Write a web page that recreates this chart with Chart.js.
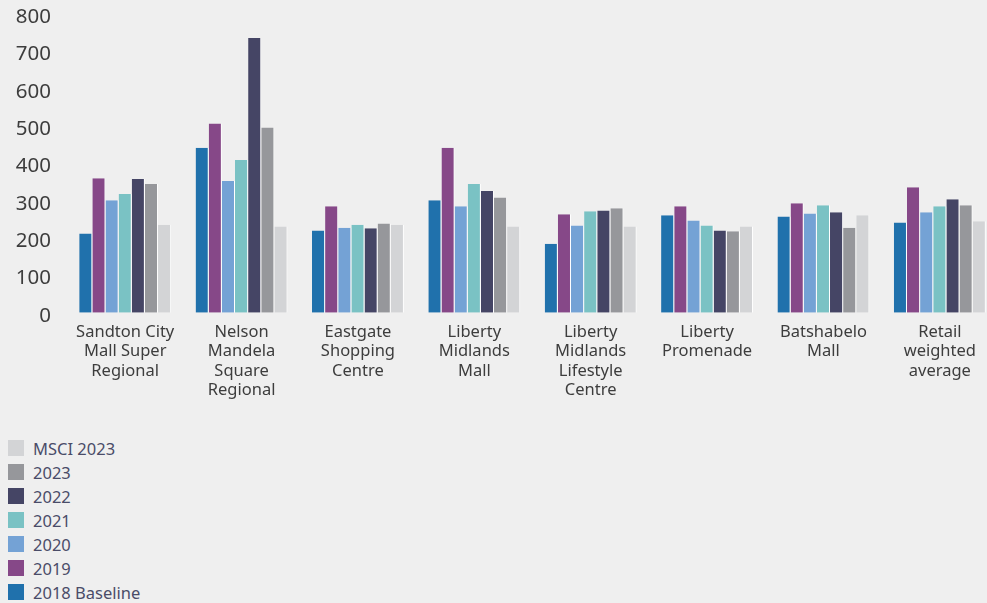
<!DOCTYPE html>
<html>
<head>
<meta charset="utf-8">
<script src="https://cdn.jsdelivr.net/npm/chart.js@4.4.1/dist/chart.umd.min.js"></script>
<style>
  html, body { margin: 0; padding: 0; background: #efefef; overflow: hidden; }
  body { width: 987px; height: 603px; position: relative; }
  #wrap { position: absolute; left: 0; top: 0; width: 1000px; height: 410px; }
  #legend { position: absolute; left: 8px; top: 436px; list-style: none; margin: 0; padding: 0;
            font-family: 'Noto Sans', sans-serif; font-size: 16.5px; color: #4a4c68; }
  #legend li { height: 24px; display: flex; align-items: center; white-space: nowrap; }
  #legend .box { width: 16px; height: 16px; margin-right: 9px; flex: none; }
</style>
</head>
<body>
<div id="wrap"><canvas id="myChart" width="1000" height="410"></canvas></div>
<ul id="legend"></ul>
<script>
const categories = [
  ['Sandton City', 'Mall Super', 'Regional'],
  ['Nelson', 'Mandela', 'Square', 'Regional'],
  ['Eastgate', 'Shopping', 'Centre'],
  ['Liberty', 'Midlands', 'Mall'],
  ['Liberty', 'Midlands', 'Lifestyle', 'Centre'],
  ['Liberty', 'Promenade'],
  ['Batshabelo', 'Mall'],
  ['Retail', 'weighted', 'average'],
];

const seriesNames = ['2018 Baseline', '2019', '2020', '2021', '2022', '2023', 'MSCI 2023'];
const seriesColors = ['#2071ac', '#864888', '#74a2d5', '#7ac2c4', '#454565', '#96979b', '#d3d4d6'];

const baseline2018 = [212, 442, 220, 301, 185, 261, 258, 242];
const values2019 = [360, 507, 285, 442, 264, 285, 293, 336];
const values2020 = [301, 353, 228, 285, 234, 247, 266, 269];
const values2021 = [318, 409, 236, 345, 272, 234, 288, 285];
const values2022 = [358, 736, 226, 326, 274, 220, 269, 304];
const values2023 = [345, 496, 239, 309, 280, 218, 228, 288];
const msci2023 = [236, 231, 236, 231, 231, 231, 261, 245];

const yTicks = [0, 100, 200, 300, 400, 500, 600, 700, 800];

const seriesValues = [baseline2018, values2019, values2020, values2021, values2022, values2023, msci2023];

const datasets = seriesNames.map((name, i) => ({
  label: name,
  data: seriesValues[i],
  backgroundColor: seriesColors[i],
  borderColor: '#ffffff',
  borderWidth: { top: 0, left: 0, bottom: 0, right: 1 },
  borderSkipped: false,
  barPercentage: 1,
  categoryPercentage: 0.79,
}));

const config = {
  type: 'bar',
  data: { labels: categories, datasets: datasets },
  options: {
    responsive: false,
    animation: false,
    layout: { padding: { top: 14, right: 2, bottom: 0, left: 0 } },
    plugins: {
      legend: { display: false },
      tooltip: { enabled: false },
    },
    scales: {
      x: {
        grid: { display: false, drawTicks: false },
        border: { display: false },
        ticks: {
          padding: 10,
          maxRotation: 0,
          autoSkip: false,
          color: '#3d3d3d',
          font: { family: 'Noto Sans', size: 16.5, lineHeight: 1.17 },
        },
      },
      y: {
        min: 0,
        max: 800,
        afterFit: (scale) => {
          scale.width = 67;
          scale.paddingTop = 0;
          scale.paddingBottom = 0;
        },
        afterBuildTicks: (scale) => { scale.ticks = yTicks.map((v) => ({ value: v })); },
        grid: { display: false, drawTicks: false },
        border: { display: false },
        ticks: {
          padding: 16,
          labelOffset: 3,
          color: '#3d3d3d',
          font: { family: 'Noto Sans', size: 20.5 },
        },
      },
    },
  },
};

const ctx = document.getElementById('myChart').getContext('2d');
const chart = new Chart(ctx, config);

// vertical legend, reversed like the original
const legendEl = document.getElementById('legend');
chart.data.datasets.slice().reverse().forEach((ds) => {
  const li = document.createElement('li');
  const box = document.createElement('span');
  box.className = 'box';
  box.style.background = ds.backgroundColor;
  li.appendChild(box);
  li.appendChild(document.createTextNode(ds.label));
  legendEl.appendChild(li);
});
</script>
</body>
</html>
